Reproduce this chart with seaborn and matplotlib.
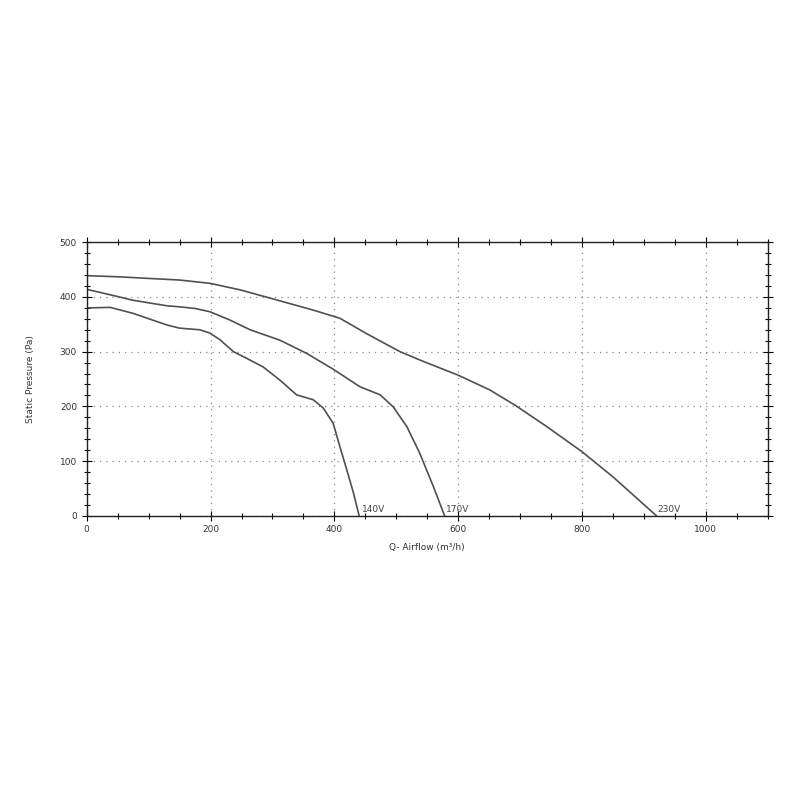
import matplotlib
matplotlib.use("Agg")
import matplotlib.pyplot as plt
from matplotlib.ticker import MultipleLocator
import pandas as pd
import seaborn as sns

# curve data
q_230 = [0, 50, 100, 150, 199, 248, 296, 366, 409, 452, 506, 544, 600, 651, 692, 743, 800, 851, 920]
p_230 = [439, 437, 434, 431, 425, 413, 398, 376, 361, 333, 300, 282, 257, 230, 202, 163, 117, 70, 0]

q_170 = [0, 38, 75, 129, 150, 175, 199, 231, 264, 312, 355, 398, 441, 474, 495, 517, 538, 560, 578]
p_170 = [414, 404, 394, 384, 382, 379, 373, 358, 340, 321, 297, 268, 236, 221, 199, 163, 114, 53, 0]

q_140 = [0, 38, 75, 129, 150, 183, 199, 215, 237, 258, 285, 312, 339, 366, 382, 398, 409, 420, 431, 440]
p_140 = [380, 381, 370, 349, 343, 340, 334, 322, 300, 288, 272, 248, 221, 212, 197, 169, 126, 84, 41, 0]

labels = ["140V", "170V", "230V"]
label_x = [445, 580, 922]

df = pd.concat([
    pd.DataFrame({"q": q_140, "p": p_140, "curve": "140V"}),
    pd.DataFrame({"q": q_170, "p": p_170, "curve": "170V"}),
    pd.DataFrame({"q": q_230, "p": p_230, "curve": "230V"}),
])

sns.set_style("white")
plt.rcParams["font.family"] = ["DejaVu Sans"]

fig = plt.figure(figsize=(8, 8), dpi=100)
ax = fig.add_axes([0.1084, 0.3554, 0.8513, 0.3417])

for name in labels:
    d = df[df["curve"] == name]
    sns.lineplot(data=d, x="q", y="p", ax=ax, color="#505050", linewidth=1.2,
                 sort=False, estimator=None)

for name, lx in zip(labels, label_x):
    ax.text(lx, 3, name, fontsize=6.5, color="#444444", ha="left", va="bottom")

ax.set_xlim(0, 1100)
ax.set_ylim(0, 500)
ax.xaxis.set_major_locator(MultipleLocator(200))
ax.xaxis.set_minor_locator(MultipleLocator(50))
ax.yaxis.set_major_locator(MultipleLocator(100))
ax.yaxis.set_minor_locator(MultipleLocator(20))

ax.tick_params(which="both", direction="inout", top=True, right=True,
               bottom=True, left=True,
               labeltop=False, labelright=False, color="black", width=0.8)
ax.tick_params(which="major", length=7, labelsize=6.5, labelcolor="#333333")
ax.tick_params(which="minor", length=5)

ax.grid(True, which="major", color="#888888", linestyle=(0, (1, 4)), linewidth=0.9)
for s in ax.spines.values():
    s.set_color("#222222")
    s.set_linewidth(1.0)

ax.set_xlabel("Q- Airflow (m³/h)", fontsize=6.5, color="#333333", labelpad=6)
ax.set_ylabel("Static Pressure (Pa)", fontsize=6.5, color="#333333", labelpad=18)

fig.savefig("out.png", dpi=100, facecolor="white")
